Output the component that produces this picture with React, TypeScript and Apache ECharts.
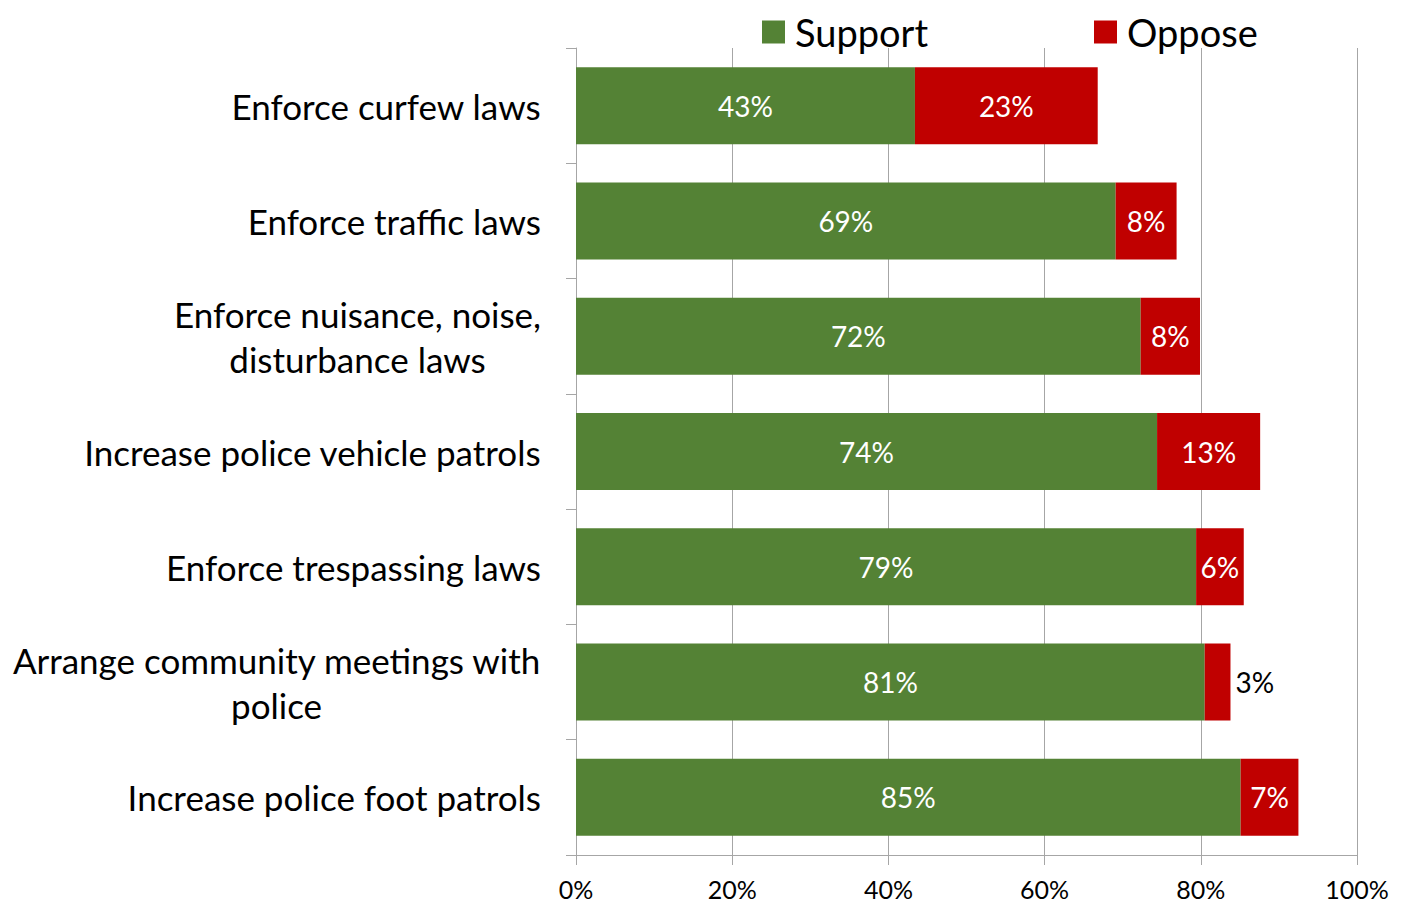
import React, { useEffect, useRef } from "react";
import * as echarts from "echarts";

const categories = [
  "Enforce curfew laws",
  "Enforce traffic laws",
  "Enforce nuisance, noise,\ndisturbance laws",
  "Increase police vehicle patrols",
  "Enforce trespassing laws",
  "Arrange community meetings with\npolice",
  "Increase police foot patrols",
];
const supportValues = [43.4, 69.1, 72.3, 74.4, 79.4, 80.5, 85.1];
const opposeValues = [23.4, 7.8, 7.6, 13.2, 6.1, 3.3, 7.4];
const outsideLabelIndex = [5];
const xTicks = [0, 20, 40, 60, 80, 100];

const FONT = "Lato";

export default function App() {
  const ref = useRef<HTMLDivElement>(null);
  useEffect(() => {
    document.body.style.margin = "0";
    if (!ref.current) return;
    const chart = echarts.init(ref.current, null, { renderer: "svg" });
    const fmt = (p: any) => `${Math.round(p.value)}%`;
    chart.setOption({
      animation: false,
      textStyle: { fontFamily: FONT },
      legend: {
        top: 8,
        left: 757,
        itemWidth: 23,
        itemHeight: 23,
        itemGap: 166,
        icon: "rect",
        textStyle: { fontSize: 38, color: "#000", fontFamily: FONT, padding: [0, 0, 0, 5] },
        data: ["Support", "Oppose"],
      },
      grid: { left: 576, right: 46, top: 48, bottom: 51, containLabel: false },
      xAxis: {
        type: "value",
        min: xTicks[0],
        max: xTicks[xTicks.length - 1],
        interval: 20,
        axisLine: { show: true, lineStyle: { color: "#a6a6a6", width: 1 } },
        axisTick: { show: true, length: 10, lineStyle: { color: "#a6a6a6" } },
        splitLine: { show: true, lineStyle: { color: "#a6a6a6", width: 1 } },
        axisLabel: {
          formatter: (v: number) => `${v}%`,
          fontSize: 25,
          lineHeight: 26,
          color: "#000",
          margin: 21,
          fontFamily: FONT,
        },
      },
      yAxis: {
        type: "category",
        inverse: true,
        data: categories,
        axisLine: { show: true, lineStyle: { color: "#a6a6a6", width: 1 } },
        axisTick: { show: true, length: 10, lineStyle: { color: "#a6a6a6" } },
        axisLabel: {
          margin: 35,
          color: "#000",
          fontSize: 35,
          fontFamily: FONT,
          formatter: (v: string) =>
            v
              .split("\n")
              .map((l) => `{c|${l}}`)
              .join("\n"),
          rich: {
            c: { align: "center", fontSize: 35, lineHeight: 45, color: "#000", fontFamily: FONT },
          },
        },
      },
      series: [
        {
          name: "Support",
          type: "bar",
          stack: "total",
          barWidth: 77,
          itemStyle: { color: "#548235" },
          label: {
            show: true,
            position: "inside",
            color: "#fff",
            fontSize: 28,
            fontFamily: FONT,
            formatter: fmt,
          },
          data: supportValues,
        },
        {
          name: "Oppose",
          type: "bar",
          stack: "total",
          barWidth: 77,
          itemStyle: { color: "#c00000" },
          label: {
            show: true,
            position: "inside",
            color: "#fff",
            fontSize: 28,
            fontFamily: FONT,
            formatter: fmt,
          },
          data: opposeValues.map((v, i) =>
            outsideLabelIndex.includes(i)
              ? { value: v, label: { position: "right", color: "#000", distance: 5 } }
              : v
          ),
        },
      ],
    });
    return () => chart.dispose();
  }, []);
  return <div ref={ref} style={{ width: 1403, height: 906 }} />;
}
